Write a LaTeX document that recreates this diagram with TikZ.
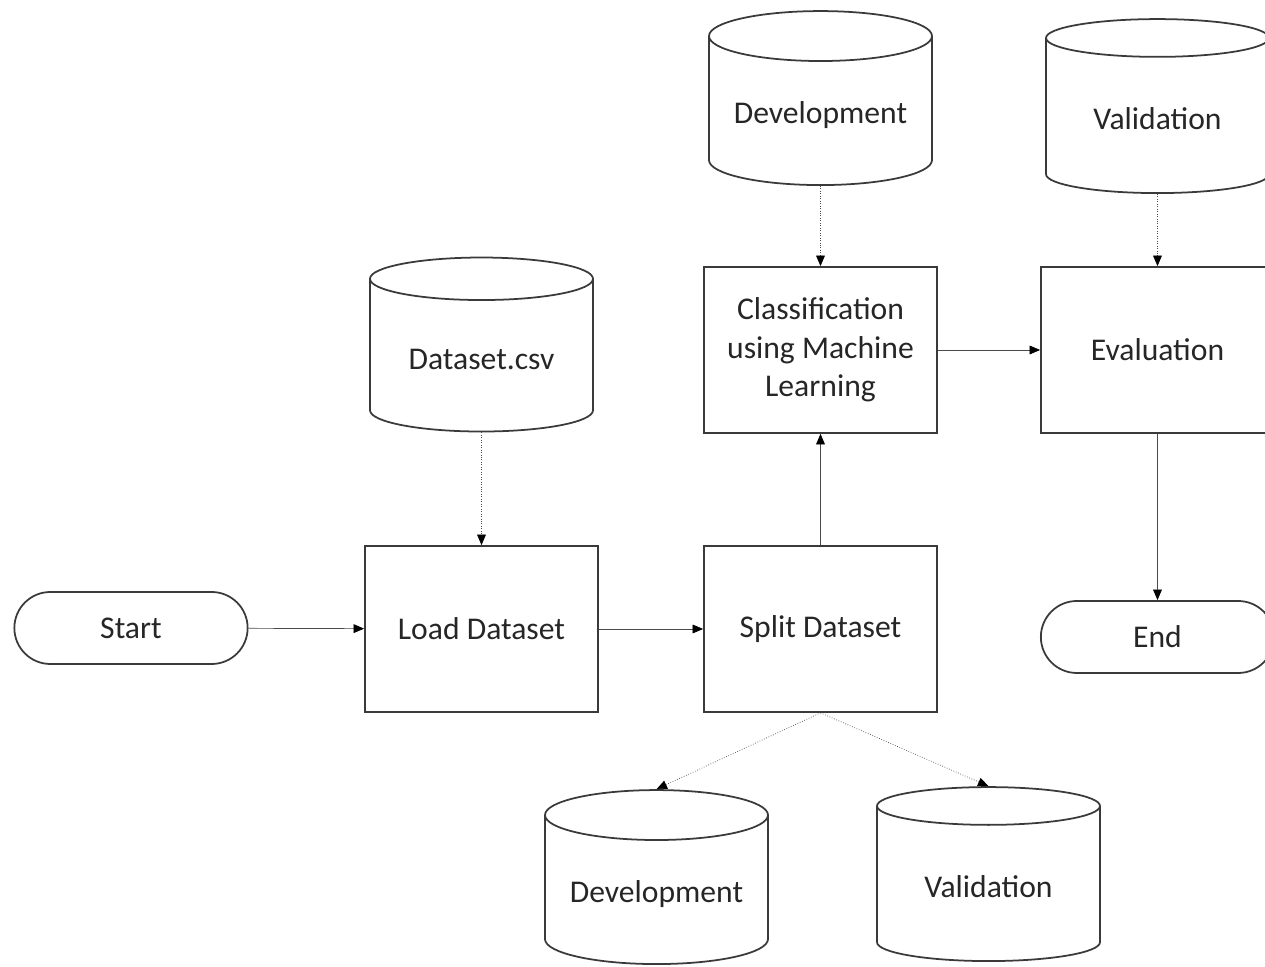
\documentclass[tikz,border=0pt]{standalone}
\usepackage{fontspec}
\setmainfont{Carlito}
\usepackage{xcolor}
\usetikzlibrary{arrows.meta,positioning,shapes.geometric,shapes.misc}
\definecolor{flowline}{HTML}{3A3A3A}
\definecolor{flowtext}{HTML}{262626}
\definecolor{flowarrow}{HTML}{4A4A4A}

\begin{document}
\begin{tikzpicture}[
    proc/.style={draw=flowline, line width=1pt,
                 minimum width=4.66cm, minimum height=3.32cm,
                 font=\fontsize{18}{22}\selectfont, align=center, text=flowtext},
    term/.style={draw=flowline, line width=1pt, rounded rectangle,
                 minimum width=4.9cm, minimum height=1.44cm,
                 font=\fontsize{18}{22}\selectfont, text=flowtext},
    db/.style={draw=flowline, line width=1pt, cylinder, shape border rotate=90,
               aspect=0.27, minimum width=4.46cm, minimum height=3.48cm,
               font=\fontsize{18}{22}\selectfont, text=flowtext},
    arr/.style={-{Triangle[length=6pt, width=5pt, color=black]}, thin, color=flowarrow},
    darr/.style={arr, densely dotted}
]
  \useasboundingbox (0,0) rectangle (25.3,19.34);
  % Terminators
  \node[term] (start) at (2.62,6.78) {Start};
  \node[term] (finish) at (23.15,6.6) {End};
  % Process steps
  \node[proc] (load) at (9.63,6.76) {Load Dataset};
  \node[proc] (split) at (16.41,6.76) {Split Dataset};
  \node[proc] (classify) at (16.41,12.34) {Classification\\using Machine\\Learning};
  \node[proc] (eval) at (23.15,12.34) {Evaluation};
  % Data stores
  \node[db] (csv) at (9.63,12.16) {Dataset.csv};
  \node[db] (devtop) at (16.41,17.04) {Development};
  \node[db] (valtop) at (23.15,16.96) {Validation};
  \node[db] (devbot) at (13.13,1.46) {Development};
  \node[db] (valbot) at (19.77,1.6) {Validation};
  % Main flow
  \draw[arr] (start) -- (load);
  \draw[arr] (load) -- (split);
  \draw[arr] (split) -- (classify);
  \draw[arr] (classify) -- (eval);
  \draw[arr] (eval) -- (finish);
  % Data flow
  \draw[darr] (csv) -- (load);
  \draw[darr] (devtop) -- (classify);
  \draw[darr] (valtop) -- (eval);
  \draw[darr] (split.south) -- (devbot.north);
  \draw[darr] (split.south) -- (valbot.north);
\end{tikzpicture}
\end{document}
